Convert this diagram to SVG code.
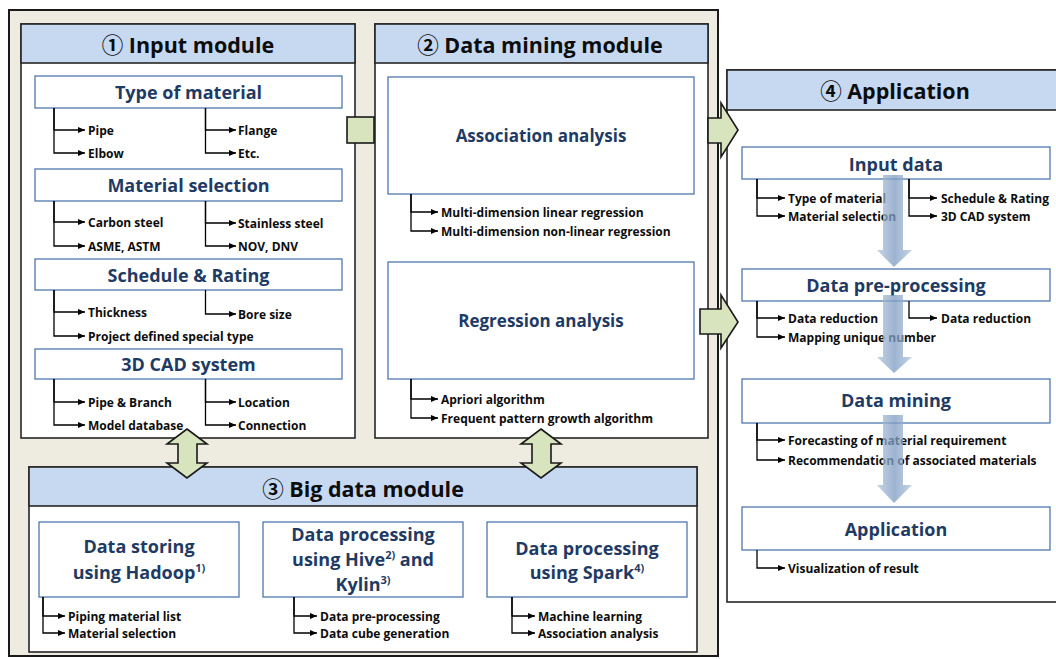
<svg xmlns="http://www.w3.org/2000/svg" width="1056" height="659" viewBox="0 0 1056 659">
<defs>
<style>
.frame{fill:#EEECE1;stroke:#1a1a1a;stroke-width:2}
.module{fill:#fff;stroke:#262626;stroke-width:1.6}
.hdr{fill:#C6D9F1;stroke:#262626;stroke-width:1.6}
.sub{fill:#fff;stroke:#4F78AE;stroke-width:1.3}
.mt{font-family:"Open Sans","Noto Sans CJK SC","DejaVu Sans",sans-serif;font-weight:bold;font-size:21.5px;fill:#0d0d0d;text-anchor:middle}
.st{font-family:"Open Sans","DejaVu Sans",sans-serif;font-weight:bold;font-size:18px;fill:#1F3B64;text-anchor:middle}
.dm{font-size:17px}
.bt{font-family:"Open Sans","DejaVu Sans",sans-serif;font-weight:bold;font-size:12px;fill:#0d0d0d}
.br{fill:none;stroke:#000;stroke-width:1.3;marker-end:url(#ah)}
.green{fill:#D7E4BD;stroke:#1a1a1a;stroke-width:1.6;stroke-linejoin:miter}
.blue{fill:url(#bg);opacity:0.75}
.sup{font-size:11px}
</style>
<marker id="ah" viewBox="0 0 7 6" refX="7" refY="3" markerWidth="7" markerHeight="6" markerUnits="userSpaceOnUse" orient="auto"><path d="M0,0 L7,3 L0,6 z" fill="#000"/></marker>
<linearGradient id="bg" x1="0" y1="0" x2="1" y2="0">
<stop offset="0" stop-color="#B3C5DC"/>
<stop offset="0.5" stop-color="#7C9BC2"/>
<stop offset="1" stop-color="#B3C5DC"/>
</linearGradient>
</defs>

<g id="frame"><rect class="frame" x="9" y="10" width="709" height="646"/></g>

<g id="input-module">
<rect class="module" x="21" y="24" width="334" height="414"/>
<rect class="hdr" x="21" y="24" width="334" height="39"/>
<text class="mt" x="188" y="53">① Input module</text>
</g>

<g id="type-of-material">
<rect class="sub" x="35" y="76" width="307" height="32"/>
<text class="st" x="188.5" y="99">Type of material</text>
<path class="br" d="M54,108 V130 H85"/><path class="br" d="M54,108 V153 H85"/>
<path class="br" d="M205.5,108 V130 H236"/><path class="br" d="M205.5,108 V153 H236"/>
<text class="bt" x="88" y="134.5">Pipe</text><text class="bt" x="88" y="157.5">Elbow</text>
<text class="bt" x="238" y="134.5">Flange</text><text class="bt" x="238" y="157.5">Etc.</text>
</g>

<g id="material-selection">
<rect class="sub" x="35" y="169" width="307" height="32"/>
<text class="st" x="188.5" y="192">Material selection</text>
<path class="br" d="M54,201 V222 H85"/><path class="br" d="M54,201 V246 H85"/>
<path class="br" d="M205.5,201 V223 H236"/><path class="br" d="M205.5,201 V246 H236"/>
<text class="bt" x="88" y="226.5">Carbon steel</text><text class="bt" x="88" y="250.5">ASME, ASTM</text>
<text class="bt" x="238" y="227.5">Stainless steel</text><text class="bt" x="238" y="250.5">NOV, DNV</text>
</g>

<g id="schedule-rating">
<rect class="sub" x="35" y="259" width="307" height="31"/>
<text class="st" x="188.5" y="282">Schedule &amp; Rating</text>
<path class="br" d="M54,290 V312 H85"/><path class="br" d="M54,290 V336 H85"/>
<path class="br" d="M205.5,290 V314 H236"/>
<text class="bt" x="88" y="316.5">Thickness</text><text class="bt" x="88" y="340.5">Project defined special type</text>
<text class="bt" x="238" y="318.5">Bore size</text>
</g>

<g id="cad-system">
<rect class="sub" x="35" y="349" width="307" height="30"/>
<text class="st" x="188.5" y="371">3D CAD system</text>
<path class="br" d="M54,379 V402 H85"/><path class="br" d="M54,379 V425 H85"/>
<path class="br" d="M205.5,379 V402 H236"/><path class="br" d="M205.5,379 V425 H236"/>
<text class="bt" x="88" y="406.5">Pipe &amp; Branch</text><text class="bt" x="88" y="429.5">Model database</text>
<text class="bt" x="238" y="406.5">Location</text><text class="bt" x="238" y="429.5">Connection</text>
</g>

<g id="data-mining-module">
<rect class="module" x="375" y="24" width="333" height="414"/>
<rect class="hdr" x="375" y="24" width="333" height="39"/>
<text class="mt" x="540" y="53">② Data mining module</text>
</g>

<g id="association-analysis">
<rect class="sub" x="388" y="77" width="306" height="117"/>
<text class="st dm" x="541" y="142">Association analysis</text>
<path class="br" d="M411,194 V212 H438"/><path class="br" d="M411,194 V231 H438"/>
<text class="bt" x="441" y="216.5">Multi-dimension linear regression</text>
<text class="bt" x="441" y="235.5">Multi-dimension non-linear regression</text>
</g>

<g id="regression-analysis">
<rect class="sub" x="388" y="262" width="306" height="117"/>
<text class="st dm" x="541" y="327">Regression analysis</text>
<path class="br" d="M411,379 V399 H438"/><path class="br" d="M411,379 V418 H438"/>
<text class="bt" x="441" y="403.5">Apriori algorithm</text>
<text class="bt" x="441" y="422.5">Frequent pattern growth algorithm</text>
</g>

<g id="big-data-module">
<rect class="module" x="29" y="467" width="668" height="185"/>
<rect class="hdr" x="29" y="467" width="668" height="39"/>
<text class="mt" x="363" y="497">③ Big data module</text>
</g>

<g id="hadoop">
<rect class="sub" x="39" y="522" width="200" height="75"/>
<text class="st" x="139" y="553">Data storing</text>
<text class="st" x="139" y="579">using Hadoop<tspan class="sup" dy="-7">1)</tspan></text>
<path class="br" d="M43,597 V616 H65"/><path class="br" d="M43,597 V633 H65"/>
<text class="bt" x="68" y="620.5">Piping material list</text>
<text class="bt" x="68" y="637.5">Material selection</text>
</g>

<g id="hive-kylin">
<rect class="sub" x="263" y="522" width="200" height="75"/>
<text class="st" x="363" y="541">Data processing</text>
<text class="st" x="363" y="566">using Hive<tspan class="sup" dy="-7">2)</tspan><tspan dy="7"> and</tspan></text>
<text class="st" x="363" y="591">Kylin<tspan class="sup" dy="-7">3)</tspan></text>
<path class="br" d="M294,597 V616 H317"/><path class="br" d="M294,597 V633 H317"/>
<text class="bt" x="320" y="620.5">Data pre-processing</text>
<text class="bt" x="320" y="637.5">Data cube generation</text>
</g>

<g id="spark">
<rect class="sub" x="487" y="522" width="200" height="75"/>
<text class="st" x="587" y="555">Data processing</text>
<text class="st" x="587" y="579">using Spark<tspan class="sup" dy="-7">4)</tspan></text>
<path class="br" d="M512,597 V616 H535"/><path class="br" d="M512,597 V633 H535"/>
<text class="bt" x="538" y="620.5">Machine learning</text>
<text class="bt" x="538" y="637.5">Association analysis</text>
</g>

<g id="application-module">
<rect class="module" x="727" y="70" width="340" height="532"/>
<rect class="hdr" x="727" y="70" width="340" height="40"/>
<text class="mt" x="895" y="99">④ Application</text>
</g>

<g id="input-data">
<rect class="sub" x="742" y="147" width="308" height="32"/>
<text class="st" x="896" y="171">Input data</text>
<path class="br" d="M757,179 V198 H785"/><path class="br" d="M757,179 V216 H785"/>
<path class="br" d="M909,179 V198 H937"/><path class="br" d="M909,179 V216 H937"/>
<text class="bt" x="788" y="202.5">Type of material</text><text class="bt" x="788" y="220.5">Material selection</text>
<text class="bt" x="941" y="202.5">Schedule &amp; Rating</text><text class="bt" x="941" y="220.5">3D CAD system</text>
</g>

<g id="data-pre-processing">
<rect class="sub" x="742" y="269" width="308" height="32"/>
<text class="st" x="896" y="292">Data pre-processing</text>
<path class="br" d="M757,301 V318 H785"/><path class="br" d="M757,301 V337 H785"/>
<path class="br" d="M909,301 V318 H937"/>
<text class="bt" x="788" y="322.5">Data reduction</text><text class="bt" x="788" y="341.5">Mapping unique number</text>
<text class="bt" x="941" y="322.5">Data reduction</text>
</g>

<g id="data-mining">
<rect class="sub" x="742" y="379" width="308" height="44"/>
<text class="st" x="896" y="407">Data mining</text>
<path class="br" d="M757,423 V440 H785"/><path class="br" d="M757,423 V460 H785"/>
<text class="bt" x="788" y="444.5">Forecasting of material requirement</text>
<text class="bt" x="788" y="464.5">Recommendation of associated materials</text>
</g>

<g id="application">
<rect class="sub" x="742" y="507" width="308" height="43"/>
<text class="st" x="896" y="536">Application</text>
<path class="br" d="M757,550 V568 H785"/>
<text class="bt" x="788" y="572.5">Visualization of result</text>
</g>

<g id="connectors">
<rect class="green" x="347" y="117" width="27" height="26"/>
<polygon class="green" points="708,118 721,118 721,103 738,130 721,157 721,143 708,143"/>
<polygon class="green" points="700,309 721,309 721,295 738,322 721,348 721,334 700,334"/>
<polygon class="green" points="187,429 207,444 197,444 197,463 207,463 187,478 167,463 178,463 178,444 167,444"/>
<polygon class="green" points="541,429 561,444 551,444 551,463 561,463 541,478 521,463 532,463 532,444 521,444"/>
<polygon class="blue" points="883,175 903,175 903,250 912,250 894,267 877,250 883,250"/>
<polygon class="blue" points="883,295 903,295 903,357 912,357 894,373 877,357 883,357"/>
<polygon class="blue" points="883,415 903,415 903,485 912,485 894,503 877,485 883,485"/>
</g>
</svg>
